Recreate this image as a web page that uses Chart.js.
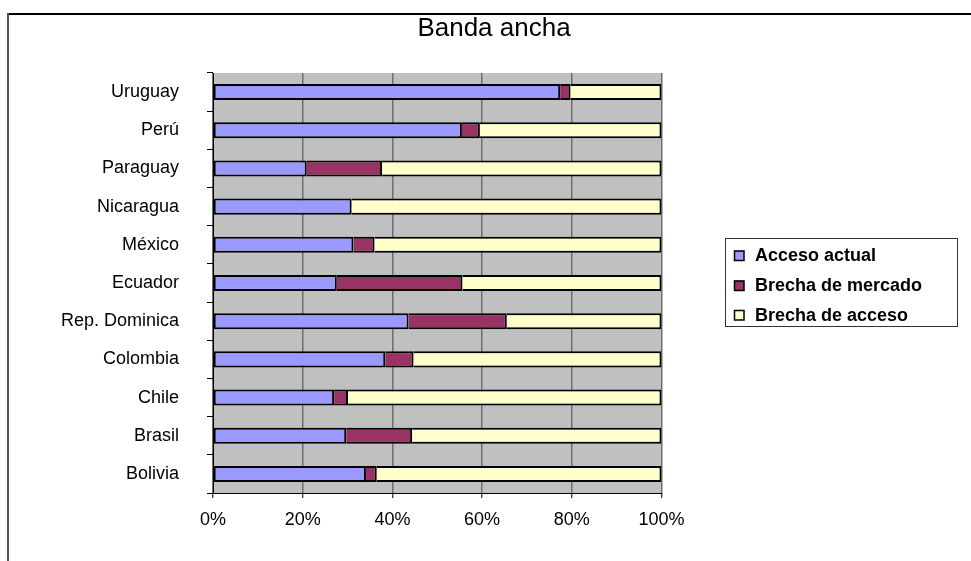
<!DOCTYPE html>
<html>
<head>
<meta charset="utf-8">
<title>Banda ancha</title>
<script src="https://cdn.jsdelivr.net/npm/chart.js@4.4.1/dist/chart.umd.min.js"></script>
<style>
  html, body { margin: 0; padding: 0; background: #ffffff; }
  #wrap { position: relative; width: 971px; height: 561px; }
  canvas { display: block; }
</style>
</head>
<body>
<div id="wrap"><canvas id="chart" width="971" height="561"></canvas></div>
<script>
// Countries, listed bottom to top
const paises = ['Bolivia', 'Brasil', 'Chile', 'Colombia', 'Rep. Dominica', 'Ecuador',
                'México', 'Nicaragua', 'Paraguay', 'Perú', 'Uruguay'];

// Share of each segment, in percent
const accesoActual    = [34.1, 29.7, 27.0, 38.4, 43.6, 27.6, 31.3, 30.9, 20.9, 55.5, 77.4];
const brechaMercado   = [ 2.4, 14.7,  3.1,  6.3, 21.9, 28.0,  4.7,  0.0, 16.8,  4.0,  2.3];
const brechaAcceso    = [63.5, 55.6, 69.9, 55.3, 34.5, 44.4, 64.0, 69.1, 62.3, 40.5, 20.3];

const serieNombres = ['Acceso actual', 'Brecha de mercado', 'Brecha de acceso'];
const tituloTexto = 'Banda ancha';

const FONT = "'Liberation Sans', Arial, Helvetica, sans-serif";

// Gray plot background, outer frame, title and legend box
const decor = {
  id: 'decor',
  beforeDraw(chart) {
    const { ctx, chartArea: a } = chart;
    ctx.save();
    ctx.fillStyle = '#000000';
    ctx.fillRect(7, 13, 971 - 7, 2);
    ctx.fillStyle = '#555555';
    ctx.fillRect(7, 13, 2, 561 - 13);
    ctx.fillStyle = '#C0C0C0';
    ctx.fillRect(a.left, a.top, a.right - a.left, a.bottom - a.top);
    ctx.restore();
  },
  afterDraw(chart) {
    const { ctx } = chart;
    ctx.save();
    // Title
    ctx.fillStyle = '#000000';
    ctx.font = '26px ' + FONT;
    ctx.textAlign = 'center';
    ctx.textBaseline = 'middle';
    ctx.fillText(tituloTexto, 494, 29);

    // Legend
    const bx = 725.5, by = 238.5, bw = 232, bh = 88;
    ctx.strokeStyle = '#333333';
    ctx.lineWidth = 1;
    ctx.strokeRect(bx, by, bw, bh);
    const rows = [255.5, 285.5, 315];
    ctx.font = 'bold 18px ' + FONT;
    ctx.textAlign = 'left';
    chart.data.datasets.forEach((ds, i) => {
      const cy = rows[i];
      ctx.fillStyle = ds.backgroundColor;
      ctx.fillRect(734, cy - 5, 10, 10);
      ctx.strokeStyle = '#000000';
      ctx.lineWidth = 1.5;
      ctx.strokeRect(734.5, cy - 4.5, 9.5, 9.5);
      ctx.fillStyle = '#000000';
      ctx.fillText(ds.label, 755, cy + 1);
    });
    ctx.restore();
  }
};

new Chart(document.getElementById('chart'), {
  type: 'bar',
  data: {
    labels: paises,
    datasets: [
      { label: serieNombres[0], data: accesoActual, backgroundColor: '#9999FF',
        borderColor: '#000000', borderWidth: 2, borderSkipped: false },
      { label: serieNombres[1], data: brechaMercado, backgroundColor: '#993366',
        borderColor: '#000000', borderWidth: 2 },
      { label: serieNombres[2], data: brechaAcceso, backgroundColor: '#FFFFCC',
        borderColor: '#000000', borderWidth: 2 }
    ]
  },
  options: {
    indexAxis: 'y',
    responsive: false,
    animation: false,
    devicePixelRatio: 1,
    layout: { padding: { left: 0, top: 73, right: 309.5, bottom: 0 } },
    datasets: { bar: { barPercentage: 0.42, categoryPercentage: 1.0 } },
    plugins: {
      legend: { display: false },
      title: { display: false },
      tooltip: { enabled: false }
    },
    scales: {
      x: {
        stacked: true,
        min: 0,
        max: 100,
        ticks: {
          stepSize: 20,
          autoSkip: false,
          maxRotation: 0,
          padding: 11,
          color: '#000000',
          font: { family: FONT, size: 18 },
          callback: v => v + '%'
        },
        grid: {
          color: '#6E6E6E',
          lineWidth: 1.5,
          tickLength: 5,
          tickColor: '#000000',
          tickWidth: 1
        },
        border: { display: true, color: '#000000', width: 1 },
        afterFit(scale) { scale.height = 68; }
      },
      y: {
        stacked: true,
        reverse: true,
        ticks: {
          padding: 28,
          color: '#000000',
          font: { family: FONT, size: 18 }
        },
        grid: {
          offset: true,
          drawOnChartArea: false,
          tickLength: 6,
          tickColor: '#000000',
          tickWidth: 1
        },
        border: { display: true, color: '#000000', width: 1 },
        afterFit(scale) { scale.width = 213; }
      }
    }
  },
  plugins: [decor]
});
</script>
</body>
</html>
